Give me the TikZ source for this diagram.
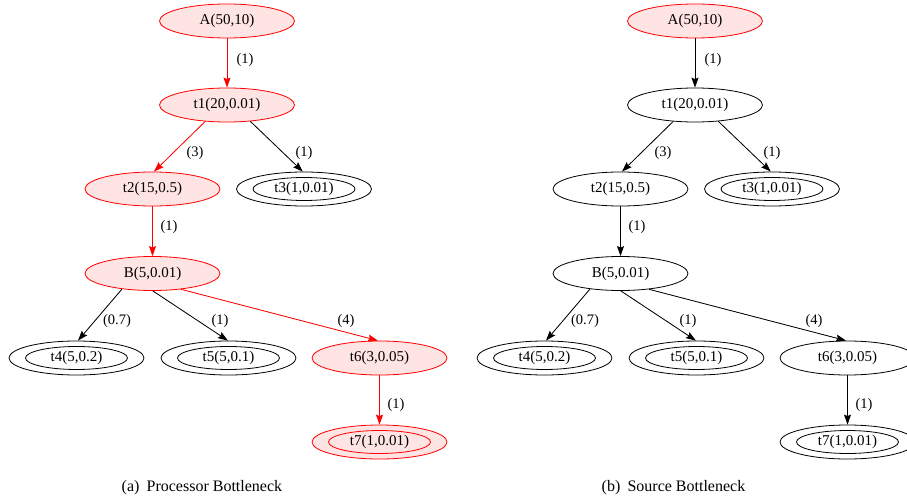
\documentclass[tikz,border=0pt]{standalone}
\usepackage{fontspec}
\setmainfont{Liberation Serif}
\usetikzlibrary{shapes.geometric,arrows.meta}
\definecolor{pinkfill}{RGB}{255,228,228}
\newcommand\drawtreepanel{%
  \node[hotnode]   (A)  at (227,21)    {A(50,10)};
  \node[pathnode]  (t1) at (227,105)   {t1(20,0.01)};
  \node[pathnode]  (t2) at (152.5,189) {t2(15,0.5)};
  \node[plainnode] (t3) at (304,189)   {t3(1,0.01)};
  \node[pathnode]  (B)  at (152.5,273.5) {B(5,0.01)};
  \node[plainnode] (t4) at (76.5,358)  {t4(5,0.2)};
  \node[plainnode] (t5) at (228.5,358) {t5(5,0.1)};
  \node[pathnode]  (t6) at (379.5,358) {t6(3,0.05)};
  \node[pathnode]  (t7) at (379.5,442) {t7(1,0.01)};
  \draw[plaininner] (t3.center) ellipse [x radius=51pt, y radius=11.5pt];
  \draw[plaininner] (t4.center) ellipse [x radius=51pt, y radius=11.5pt];
  \draw[plaininner] (t5.center) ellipse [x radius=51pt, y radius=11.5pt];
  \draw[pathinner]  (t7.center) ellipse [x radius=51pt, y radius=11.5pt];
  \draw[pathedge]  (A.south)  -- (t1.north);
  \draw[pathedge]  (t1.217)   -- (t2.85);
  \draw[plainedge] (t1.325)   -- (t3.94);
  \draw[pathedge]  (t2.south) -- (B.north);
  \draw[plainedge] (B.207)    -- (t4.85);
  \draw[plainedge] (B.271)    -- (t5.92);
  \draw[pathedge]  (B.331)    -- (t6.95);
  \draw[pathedge]  (t6.south) -- (t7.north);
  \node[lbl] (l1) at (245,60)  {(1)};
  \node[lbl] (l2) at (195,153) {(3)};
  \node[lbl] (l3) at (304,153) {(1)};
  \node[lbl] (l4) at (169,227) {(1)};
  \node[lbl] (l5) at (117,321) {(0.7)};
  \node[lbl] (l6) at (220,321) {(1)};
  \node[lbl] (l7) at (346,321) {(4)};
  \node[lbl] (l8) at (396,405) {(1)};
}
\begin{document}
\begin{tikzpicture}[x=1pt,y=-1pt,
  basenode/.style={ellipse, draw, line width=0.8pt, minimum width=135pt, minimum height=34pt,
    inner sep=0pt, font=\fontsize{15}{18}\selectfont},
  plainnode/.style={basenode, draw=black, fill=white},
  rednode/.style={basenode, draw=red, fill=pinkfill},
  hotnode/.style={rednode},
  plaininner/.style={draw=black, line width=0.8pt},
  baseedge/.style={line width=0.8pt, -{Stealth[length=10pt,width=7pt,inset=1.5pt]}},
  plainedge/.style={baseedge, draw=black, fill=black},
  lbl/.style={font=\fontsize{14.5}{17}\selectfont, inner sep=0pt},
  capt/.style={font=\fontsize{16}{19}\selectfont, anchor=base west, inner sep=0pt}]
\useasboundingbox (0,0) rectangle (907,500);
\begin{scope}[name prefix=L-,
  pathnode/.style={rednode},
  pathinner/.style={draw=red, line width=0.8pt},
  pathedge/.style={baseedge, draw=red, fill=red}]
  \drawtreepanel
\end{scope}
\begin{scope}[xshift=468pt, name prefix=R-,
  pathnode/.style={plainnode},
  pathinner/.style={draw=black, line width=0.8pt},
  pathedge/.style={baseedge, draw=black, fill=black}]
  \drawtreepanel
\end{scope}
\node[capt] (capa) at (121.5,491) {(a)\hspace{0.45em}Processor Bottleneck};
\node[capt] (capb) at (601.5,491) {(b)\hspace{0.45em}Source Bottleneck};
\end{tikzpicture}
\end{document}
